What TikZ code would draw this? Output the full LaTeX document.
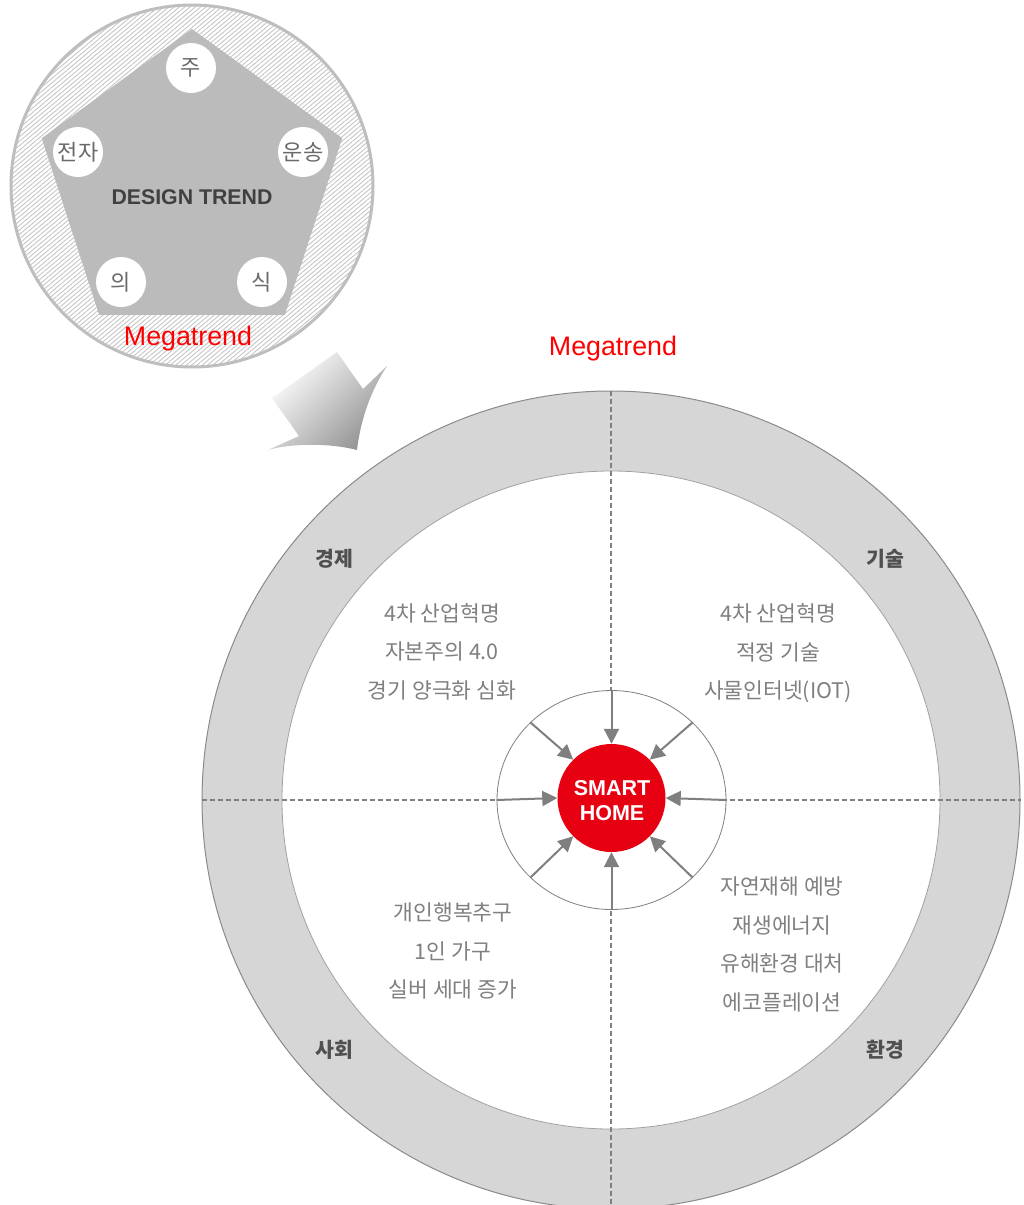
\documentclass[tikz,border=0pt]{standalone}
\usepackage{fontspec}
\setmainfont{Liberation Sans}
\newfontfamily\kr{Noto Sans CJK KR}
\usetikzlibrary{patterns.meta,arrows.meta,shapes.geometric}
\definecolor{ringgray}{HTML}{D6D6D6}
\definecolor{edgegray}{HTML}{8A8A8A}
\definecolor{dashgray}{HTML}{808080}
\definecolor{agray}{HTML}{7F7F7F}
\definecolor{kgray}{HTML}{808080}
\definecolor{dgray}{HTML}{505050}
\definecolor{smartred}{HTML}{E60012}
\definecolor{megared}{HTML}{FF0000}
\definecolor{pentgray}{HTML}{BBBBBB}
\definecolor{rimgray}{HTML}{BEBEBE}
\definecolor{hatchgray}{HTML}{C6C6C6}
\definecolor{cgray}{HTML}{6A6A6A}
\begin{document}
\begin{tikzpicture}[x=1pt,y=-1pt,
  kor/.style={font=\kr\fontsize{21.5}{38.5}\selectfont, text=kgray, align=center},
  quad/.style={font=\kr\bfseries\fontsize{20.5}{22}\selectfont, text=dgray},
  smallc/.style={circle, fill=white, minimum size=50pt, inner sep=0pt, font=\kr\fontsize{22}{24}\selectfont, text=cgray},
  guide/.style={draw=dashgray, line width=1.5pt, dash pattern=on 5pt off 3pt},
  inarrow/.style={draw=agray, line width=2pt, -{Triangle[length=15pt,width=15pt]}},
  mega/.style={font=\fontsize{26.8}{30}\selectfont, text=megared}]
\useasboundingbox (0,0) rectangle (1023,1205);

% ---------- top-left Megatrend circle ----------
\node[circle, minimum size=362pt, inner sep=0pt, draw=rimgray, line width=3pt,
      preaction={fill=white}, pattern={Lines[angle=40,distance=3.4pt,line width=0.9pt]}, pattern color=hatchgray] (mg) at (192,186) {};
\node[regular polygon, regular polygon sides=5, minimum size=316pt, inner sep=0pt, fill=pentgray] (pent) at (192,187) {};
\node[smallc] (cju) at (191,68) {주};
\node[smallc] (cjj) at (78,152) {전자};
\node[smallc] (cus) at (303,152) {운송};
\node[smallc] (cui) at (121,282) {의};
\node[smallc] (csi) at (262,282) {식};
\node[font=\bfseries\fontsize{21.3}{24}\selectfont, text=black!75] (dt) at (192,197) {DESIGN TREND};
\node[mega] (mg1) at (188,339) {Megatrend};

% ---------- big arrow ----------
\shade[top color=white, bottom color=black!42, shading angle=45]
  (272,398) -- (337,352) -- (363,389) -- (387,366)
  .. controls (368,395) and (360,425) .. (357,450)
  .. controls (330,443) and (292,443) .. (268,450)
  -- (299,436) -- cycle;

% ---------- main circle ----------
\node[mega] (mg2) at (613,349) {Megatrend};
\node[circle, minimum size=818pt, inner sep=0pt, fill=ringgray, draw=edgegray, line width=1pt] (outer) at (611,800) {};
\node[circle, minimum size=658pt, inner sep=0pt, fill=white, draw=edgegray!80, line width=0.8pt] (inner) at (611,800) {};
\draw[guide] (outer.north) -- (outer.south);
\draw[guide] (outer.west) -- (outer.east);
\node[ellipse, minimum width=229pt, minimum height=219pt, inner sep=0pt, fill=white, draw=agray, line width=0.8pt] (ring) at (611.5,800) {};
\node[circle, minimum size=108pt, inner sep=0pt, fill=smartred, text=white, align=center,
      font=\bfseries\fontsize{21.5}{25}\selectfont] (sh) at (611.5,798) {};
\node[text=white, align=center, font=\bfseries\fontsize{21.5}{25}\selectfont] (shtxt) at (612,801) {SMART\\HOME};
\foreach \a in {north,north east,east,south east,south,south west,west,north west}
  \draw[inarrow] (ring.\a) -- (sh.\a);

% ---------- labels ----------
\node[quad] (q1) at (334,559) {경제};
\node[quad] (q2) at (885,559) {기술};
\node[quad] (q3) at (334,1050) {사회};
\node[quad] (q4) at (885,1050) {환경};

\node[kor] (t1) at (442,651.5) {4차 산업혁명\\자본주의 4.0\\경기 양극화 심화};
\node[kor] (t2) at (778,653.5) {4차 산업혁명\\적정 기술\\사물인터넷(IOT)};
\node[kor] (t3) at (453,951) {개인행복추구\\1인 가구\\실버 세대 증가};
\node[kor] (t4) at (782,944.5) {자연재해 예방\\재생에너지\\유해환경 대처\\에코플레이션};
\end{tikzpicture}
\end{document}
